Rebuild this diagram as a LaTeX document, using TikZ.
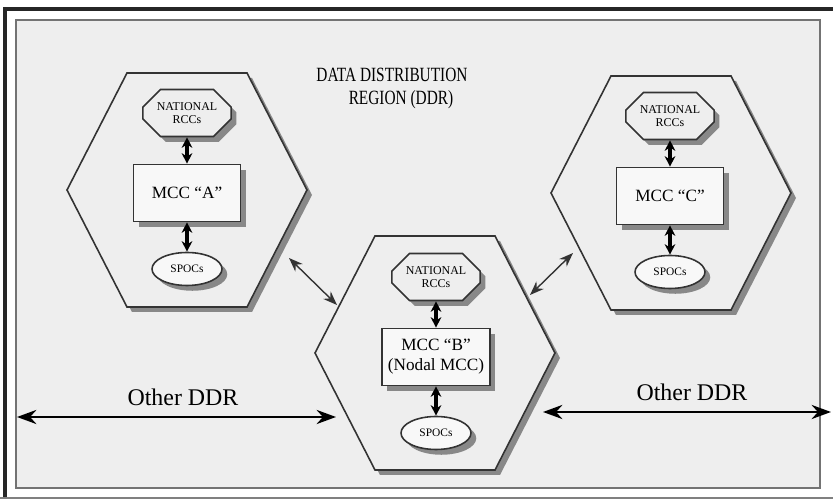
\documentclass[tikz,border=0pt]{standalone}
\usepackage{fontspec}
\setmainfont{Liberation Serif}
\usetikzlibrary{arrows.meta,shapes.geometric,shapes.misc,shadows}

\definecolor{panelgray}{HTML}{EEEEEE}
\definecolor{edgegray}{HTML}{333333}
\definecolor{shadegray}{HTML}{888888}

\tikzset{
    hexline/.style={draw=edgegray,line width=0.9pt,fill=panelgray},
    hexshade/.style={fill=shadegray},
    boxshade/.style={drop shadow={shadow xshift=3pt,shadow yshift=-3pt,fill=shadegray,opacity=1}},
    rccbox/.style={chamfered rectangle,chamfered rectangle xsep=0.25cm,draw=edgegray,fill=panelgray,line width=0.9pt,
        minimum width=1.38cm,minimum height=0.94cm,inner sep=1pt,align=center,font=\fontsize{6.8}{7.2}\selectfont,boxshade},
    mccbox/.style={rectangle,draw=edgegray,fill=white!60!panelgray,line width=0.9pt,minimum width=2.14cm,minimum height=1.14cm,
        align=center,font=\fontsize{9.8}{11.5}\selectfont,boxshade},
    spocbox/.style={ellipse,draw=edgegray,fill=white!60!panelgray,line width=0.9pt,minimum width=1.4cm,minimum height=0.66cm,
        inner sep=0pt,font=\fontsize{6.5}{7}\selectfont,boxshade},
    linkarrow/.style={{Stealth[length=6pt,width=6pt]}-{Stealth[length=6pt,width=6pt]},line width=2pt},
    hexarrow/.style={{Stealth[length=8pt,width=6pt]}-{Stealth[length=8pt,width=6pt]},line width=0.8pt,draw=edgegray},
    ddrarrow/.style={{Stealth[length=11pt,width=8pt]}-{Stealth[length=11pt,width=8pt]},line width=1.6pt},
}

\begin{document}
\begin{tikzpicture}[x=0.02cm,y=-0.02cm]
    \useasboundingbox (0,0) rectangle (833,499);
    % frame and panel
    \draw[line width=2.3pt,black!85] (5,499) -- (5,9) -- (833,9);
    \draw[line width=0.6pt,black!50] (0,498) -- (833,498);
    \draw[line width=0.9pt,draw=black!55,fill=panelgray] (16,20) rectangle (820,488);

    % hexagons
    \foreach \cx/\cy in {187/190,435/353,671/193} {
        \fill[hexshade,shift={(5,5)}] (\cx-60,\cy-117) -- (\cx+60,\cy-117) -- (\cx+120,\cy) -- (\cx+60,\cy+117) -- (\cx-60,\cy+117) -- (\cx-120,\cy) -- cycle;
        \draw[hexline] (\cx-60,\cy-117) -- (\cx+60,\cy-117) -- (\cx+120,\cy) -- (\cx+60,\cy+117) -- (\cx-60,\cy+117) -- (\cx-120,\cy) -- cycle;
    }

    % title
    \node (titletop) at (392,75) {\fontsize{11.5}{13}\selectfont\scalebox{0.76}[1]{DATA DISTRIBUTION}};
    \node (titlebot) at (401,100) {\fontsize{11.5}{13}\selectfont\scalebox{0.76}[1]{REGION (DDR)}};

    % the three MCCs
    \foreach \n/\cx/\cy/\txt in {a/187/190/{MCC “A”},b/436/354/{MCC “B”\\(Nodal MCC)},c/670/193/{MCC “C”}} {
        \node[rccbox]  (rcc\n)  at (\cx,\cy-77) {NATIONAL\\RCCs};
        \node[mccbox]  (mcc\n)  at (\cx,\cy+3)  {\txt};
        \node[spocbox] (spoc\n) at (\cx,\cy+79) {SPOCs};
        \draw[linkarrow] (rcc\n) -- (mcc\n);
        \draw[linkarrow] (mcc\n) -- (spoc\n);
    }

    % links between regions
    \coordinate (ab1) at (289,258);
    \coordinate (ab2) at (337,305);
    \coordinate (bc1) at (530,295);
    \coordinate (bc2) at (573,253);
    \draw[hexarrow] (ab1) -- (ab2);
    \draw[hexarrow] (bc1) -- (bc2);

    % other regions
    \coordinate (westa) at (17,417);
    \coordinate (westb) at (336,417);
    \coordinate (easta) at (543,412);
    \coordinate (eastb) at (831,412);
    \draw[ddrarrow] (westa) -- (westb);
    \draw[ddrarrow] (easta) -- (eastb);
    \node[font=\fontsize{13.6}{16}\selectfont] (westlbl) at (183,397) {Other DDR};
    \node[font=\fontsize{13.6}{16}\selectfont] (eastlbl) at (692,392) {Other DDR};
\end{tikzpicture}
\end{document}
